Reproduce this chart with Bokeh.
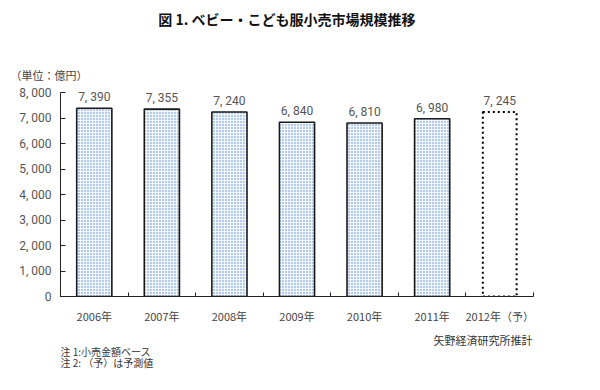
from bokeh.plotting import figure
from bokeh.models import FixedTicker, Range1d, Title, Label, ColumnDataSource
from bokeh.layouts import column
from bokeh.core.properties import value
from bokeh.embed import file_html
from bokeh.resources import INLINE

years = ["2006年", "2007年", "2008年", "2009年", "2010年", "2011年", "2012年（予）"]
values = [7390, 7355, 7240, 6840, 6810, 6980, 7245]
forecast = [False, False, False, False, False, False, True]
y_ticks = [0, 1000, 2000, 3000, 4000, 5000, 6000, 7000, 8000]

def fmt(v):
    return "{:,}".format(v).replace(",", ", ")

xs = [i + 0.5 for i in range(len(years))]
JP = "Noto Sans CJK JP"
W = 584
BL, BR = 60, 51
FRAME_X = (BL, W - BR)  # x of the (aligned) plot frame

def text_panel(h):
    f = figure(width=W, height=h, output_backend="svg", toolbar_location=None,
               x_range=Range1d(*FRAME_X), y_range=Range1d(h, 0),
               x_axis_location=None, y_axis_location=None,
               min_border_left=BL, min_border_right=BR, min_border_top=0, min_border_bottom=0)
    f.outline_line_color = None
    f.xgrid.visible = False
    f.ygrid.visible = False
    return f

def put(f, x, y, text, size, align="left", bold=False, color="#333333"):
    f.add_layout(Label(x=x, y=y, text=text, text_font=JP, text_font_size=size,
                       text_align=align, text_baseline="middle", text_color=color,
                       text_font_style="bold" if bold else "normal"))

# header
head = text_panel(58)
put(head, 288, 18, "図 1.  ベビー・こども服小売市場規模推移", "14px", align="center", bold=True, color="#111111")

# main chart
p = figure(width=W, height=270, output_backend="svg", toolbar_location=None,
           x_range=Range1d(0, len(years)), y_range=Range1d(0, 8400),
           min_border_left=BL, min_border_right=BR, min_border_top=24, min_border_bottom=32)
p.outline_line_color = None
p.xgrid.visible = False
p.ygrid.visible = False

act = ColumnDataSource(dict(x=[x for x, f in zip(xs, forecast) if not f],
                            top=[v for v, f in zip(values, forecast) if not f]))
fc = ColumnDataSource(dict(x=[x for x, f in zip(xs, forecast) if f],
                           top=[v for v, f in zip(values, forecast) if f]))
p.vbar(x="x", top="top", bottom=0, width=0.52, source=act,
       fill_color="#b3cbea", line_color="#1a1a1a", line_width=1.6,
       hatch_pattern="+", hatch_color="white", hatch_scale=3, hatch_weight=1, hatch_alpha=0.85)
p.vbar(x="x", top="top", bottom=0, width=0.5, source=fc,
       fill_color="white", line_color="black", line_width=2, line_dash="2 3")

lab = ColumnDataSource(dict(x=xs, y=values, t=[fmt(v) for v in values]))
p.text(x="x", y="y", text="t", source=lab, text_align="center", text_baseline="bottom",
       y_offset=-4, text_font_size="12px", text_color="#555555", text_font=value("Roboto"))

p.yaxis.bounds = (y_ticks[0], y_ticks[-1])
p.yaxis.ticker = FixedTicker(ticks=y_ticks)
p.yaxis.major_label_overrides = {v: (fmt(v) if v else "0") for v in y_ticks}
p.yaxis.major_tick_in = 5
p.yaxis.major_tick_out = 0
p.yaxis.minor_tick_line_color = None
p.yaxis.major_label_standoff = 9
p.yaxis.major_label_text_font = "Roboto"
p.yaxis.major_label_text_font_size = "12px"
p.yaxis.major_label_text_color = "#555555"
p.yaxis.axis_line_color = "#222222"
p.yaxis.major_tick_line_color = "#222222"

p.xaxis.ticker = FixedTicker(ticks=xs, minor_ticks=list(range(len(years) + 1)))
p.xaxis.major_label_overrides = {x: y for x, y in zip(xs, years)}
p.xaxis.major_tick_line_color = None
p.xaxis.minor_tick_in = 4
p.xaxis.minor_tick_out = 0
p.xaxis.minor_tick_line_color = "#222222"
p.xaxis.axis_line_color = "#222222"
p.xaxis.major_label_standoff = 5
p.xaxis.major_label_text_font = JP
p.xaxis.major_label_text_font_size = "11px"
p.xaxis.major_label_text_color = "#444444"

p.add_layout(Title(text="（単位：億円）", align="left", offset=-50, standoff=0, text_font=JP,
                   text_font_size="11px", text_color="#444444", text_font_style="normal"), "above")

# footer
foot = text_panel(48)
put(foot, 532, 11, "矢野経済研究所推計", "11px", align="right")
put(foot, 60, 23, "注 1:小売金額ベース", "10px")
put(foot, 60, 34, "注 2: （予）は予測値", "10px")

layout = column(head, p, foot, spacing=0)
open("out.html", "w").write(file_html(layout, INLINE))
